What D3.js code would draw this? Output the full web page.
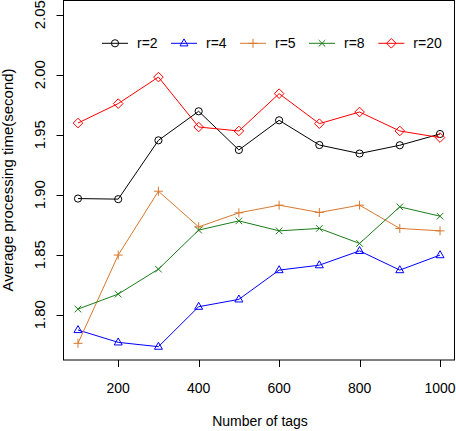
<!DOCTYPE html>
<html><head><meta charset="utf-8">
<script src="https://cdn.jsdelivr.net/npm/d3@7"></script>
<style>body{margin:0;background:#fff}svg{display:block}text{font-family:"Liberation Sans",Arial,sans-serif;fill:#000}</style>
</head><body>
<script>
const tags = [100,200,300,400,500,600,700,800,900,1000];
const r2  = [1.8968,1.8963,1.9453,1.9695,1.9373,1.9620,1.9414,1.9343,1.9412,1.9506];
const r4  = [1.7873,1.7770,1.7734,1.8067,1.8128,1.8372,1.8413,1.8532,1.8372,1.8497];
const r5  = [1.7762,1.8497,1.9029,1.8732,1.8849,1.8913,1.8852,1.8913,1.8719,1.8699];
const r8  = [1.8047,1.8172,1.8380,1.8705,1.8782,1.8699,1.8719,1.8594,1.8899,1.8821];
const r20 = [1.9597,1.9759,1.9980,1.9564,1.9531,1.9842,1.9592,1.9689,1.9531,1.9476];
const seriesNames = ["r=2","r=4","r=5","r=8","r=20"];
const xTicks = [200,400,600,800,1000];
const yTicks = [1.80,1.85,1.90,1.95,2.00,2.05];
const xTitle = "Number of tags";
const yTitle = "Average processing time(second)";

const W=456,H=431;
const L=63.5,R=454.5,T=0.5,B=360;
const x=d3.scaleLinear().domain([64,1036]).range([L,R]);
const y=d3.scaleLinear().domain([1.7623,2.0618]).range([B,T]);
const svg=d3.select("body").append("svg").attr("width",W).attr("height",H);

const series=[
 {name:seriesNames[0],vals:r2,color:"#000000",shape:"circle"},
 {name:seriesNames[1],vals:r4,color:"#0000ff",shape:"triangle"},
 {name:seriesNames[2],vals:r5,color:"#d9782d",shape:"plus"},
 {name:seriesNames[3],vals:r8,color:"#1a7d1a",shape:"cross"},
 {name:seriesNames[4],vals:r20,color:"#ff0000",shape:"diamond"}
];
function marker(g,shape,color){
  const s={fill:"none",stroke:color,"stroke-width":1};
  let el;
  if(shape==="circle") el=g.append("circle").attr("r",3.6);
  else if(shape==="triangle") el=g.append("path").attr("d","M0,-4.4L4,2.6L-4,2.6Z");
  else if(shape==="plus") el=g.append("path").attr("d","M-4.5,0H4.5M0,-4.5V4.5");
  else if(shape==="cross") el=g.append("path").attr("d","M-3.3,-3.3L3.3,3.3M-3.3,3.3L3.3,-3.3");
  else el=g.append("path").attr("d","M0,-4.8L4.8,0L0,4.8L-4.8,0Z");
  for(const k in s) el.attr(k,s[k]);
}
const line=d3.line().x((d,i)=>x(tags[i])).y(d=>y(d));
series.forEach(s=>{
  svg.append("path").attr("d",line(s.vals)).attr("fill","none").attr("stroke",s.color).attr("stroke-width",1);
  s.vals.forEach((v,i)=>{
    const g=svg.append("g").attr("transform",`translate(${x(tags[i])},${y(v)})`);
    marker(g,s.shape,s.color);
  });
});
// box
svg.append("rect").attr("x",L).attr("y",T).attr("width",R-L).attr("height",B-T).attr("fill","none").attr("stroke","#000").attr("stroke-width",1);
// x axis
xTicks.forEach(t=>{
  svg.append("line").attr("x1",Math.round(x(t))+0.5).attr("x2",Math.round(x(t))+0.5).attr("y1",B).attr("y2",B+7).attr("stroke","#000");
  svg.append("text").attr("x",x(t)).attr("y",392.5).attr("text-anchor","middle").style("font-size","14px").text(t);
});
// y axis
yTicks.forEach(t=>{
  const yy=Math.round(y(t))+0.5;
  svg.append("line").attr("x1",L-7).attr("x2",L).attr("y1",yy).attr("y2",yy).attr("stroke","#000");
  svg.append("text").attr("transform",`translate(44.5,${y(t)}) rotate(-90)`).attr("text-anchor","middle").style("font-size","15px").text(t.toFixed(2));
});
svg.append("text").attr("x",260).attr("y",426).attr("text-anchor","middle").style("font-size","14px").text(xTitle);
svg.append("text").attr("transform",`translate(13,180) rotate(-90)`).attr("text-anchor","middle").style("font-size","15px").text(yTitle);
// legend
const legX=[102,171,240,309,378.3], ly=43.3;
series.forEach((s,i)=>{
  const x0=legX[i];
  svg.append("line").attr("x1",x0).attr("x2",x0+26).attr("y1",ly).attr("y2",ly).attr("stroke",s.color);
  const g=svg.append("g").attr("transform",`translate(${x0+13},${ly})`);
  marker(g,s.shape,s.color);
  svg.append("text").attr("x",x0+35).attr("y",ly+5).style("font-size","14px").text(s.name);
});
</script>
</body></html>
